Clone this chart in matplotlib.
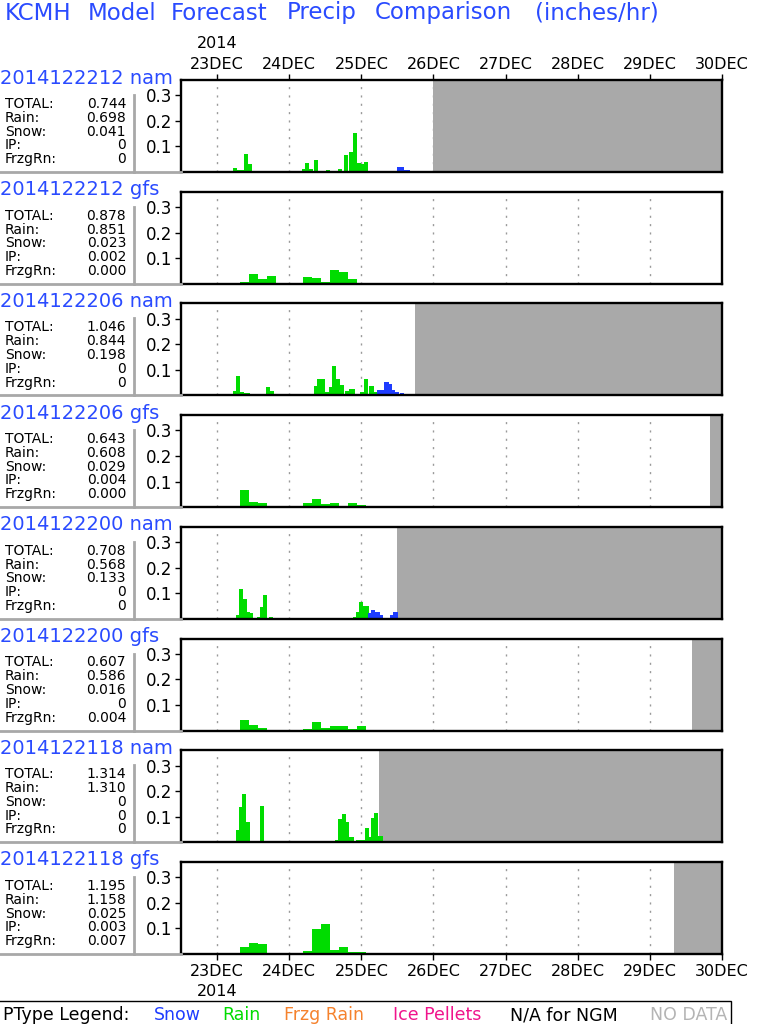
import matplotlib
matplotlib.use("Agg")
import matplotlib.pyplot as plt
from matplotlib.lines import Line2D
from matplotlib.patches import Rectangle

# ---- data (hours are counted from 22DEC 12Z, values in inches/hr) ----
title_words = ["KCMH", "Model", "Forecast", "Precip", "Comparison", "(inches/hr)"]
run_labels = ["2014122212 nam", "2014122212 gfs", "2014122206 nam", "2014122206 gfs",
              "2014122200 nam", "2014122200 gfs", "2014122118 nam", "2014122118 gfs"]
stat_names = ["TOTAL:", "Rain:", "Snow:", "IP:", "FrzgRn:"]
stat_values = [
    ["0.744", "0.698", "0.041", "0", "0"],
    ["0.878", "0.851", "0.023", "0.002", "0.000"],
    ["1.046", "0.844", "0.198", "0", "0"],
    ["0.643", "0.608", "0.029", "0.004", "0.000"],
    ["0.708", "0.568", "0.133", "0", "0"],
    ["0.607", "0.586", "0.016", "0", "0.004"],
    ["1.314", "1.310", "0", "0", "0"],
    ["1.195", "1.158", "0.025", "0.003", "0.007"],
]
no_data_from = [84, None, 78, 176, 72, 170, 66, 164]

day_hours = [12, 36, 60, 84, 108, 132, 156, 180]
day_labels = ["23DEC", "24DEC", "25DEC", "26DEC", "27DEC", "28DEC", "29DEC", "30DEC"]

# nam 2014122212
p1_rain_h = [15.4, 17.3, 18.7, 20.0, 21.0, 22.3, 23.3, 24.6, 26.0, 28.0, 29.0,
             38.3, 39.3, 40.3, 41.3, 42.7, 44.3, 45.7, 47.0, 48.3, 49.7, 51.0, 52.3, 53.5,
             54.3, 56.0, 57.1, 58.4, 59.8, 60.9, 62.5, 64.2, 65.5, 66.8]
p1_rain_v = [0.004, 0.017, 0.006, 0.008, 0.072, 0.030, 0.004, 0.004, 0.004, 0.004, 0.004,
             0.004, 0.004, 0.013, 0.034, 0.013, 0.048, 0.004, 0.004, 0.008, 0.004, 0.004, 0.013, 0.004,
             0.068, 0.080, 0.154, 0.034, 0.030, 0.040, 0.004, 0.004, 0.004, 0.004]
p1_snow_h = [67.8, 69.0, 70.3, 71.8, 72.8, 73.8, 74.8]
p1_snow_v = [0.004, 0.004, 0.004, 0.021, 0.021, 0.008, 0.008]

# gfs 2014122212
p2_rain_h = [21, 24, 27, 30, 42, 45, 48, 51, 54, 57, 60, 117, 120]
p2_rain_v = [0.006, 0.038, 0.019, 0.031, 0.025, 0.022, 0.006, 0.052, 0.045, 0.018, 0.004, 0.003, 0.003]
p2_frzg_h = [81]
p2_frzg_v = [0.002]

# nam 2014122206
p3_rain_h = [17.3, 18.3, 19.7, 21.0, 21.7, 22.7, 28.3, 29.7,
             43.3, 44.3, 45.3, 46.4, 47.7, 48.3, 49.3, 50.3, 51.7, 53.0, 54.7, 56.0, 56.4,
             58.7, 59.7, 61.0, 62.7, 64.0]
p3_rain_v = [0.016, 0.074, 0.013, 0.009, 0.009, 0.004, 0.031, 0.019,
             0.006, 0.035, 0.066, 0.066, 0.013, 0.013, 0.031, 0.117, 0.066, 0.039, 0.019, 0.027, 0.027,
             0.005, 0.013, 0.066, 0.035, 0.013]
p3_snow_h = [65.3, 66.4, 67.7, 69.0, 70.0, 71.3, 72.7]
p3_snow_v = [0.023, 0.023, 0.054, 0.043, 0.023, 0.013, 0.009]

# gfs 2014122206
p4_rain_h = [18, 21, 24, 27, 30, 42, 45, 48, 51, 57, 60, 117]
p4_rain_v = [0.004, 0.067, 0.020, 0.016, 0.004, 0.016, 0.031, 0.012, 0.016, 0.016, 0.008, 0.002]
p4_ip_h = [66]
p4_ip_v = [0.003]
p4_snow_h = [69, 75, 138]
p4_snow_v = [0.003, 0.003, 0.002]
p4_frzg_h = [78]
p4_frzg_v = [0.002]

# nam 2014122200
p5_rain_h = [18.3, 19.3, 20.7, 21.7, 22.7, 24.3, 25.3, 26.3, 27.3, 28.7, 29.3, 30.7, 31.7,
             42.0, 43.0, 57.3, 58.3, 59.3, 60.7, 61.3]
p5_rain_v = [0.013, 0.115, 0.076, 0.025, 0.021, 0.004, 0.009, 0.048, 0.095, 0.004, 0.009, 0.003, 0.003,
             0.004, 0.004, 0.009, 0.025, 0.064, 0.052, 0.052]
p5_snow_h = [62.3, 63.3, 64.7, 65.7, 67.0, 68.3, 69.7, 70.7]
p5_snow_v = [0.021, 0.033, 0.025, 0.013, 0.005, 0.005, 0.013, 0.025]
p5_none_h = [6.3, 17.3, 33.0, 34.3, 35.6, 36.9, 38.2, 39.5, 40.8, 49.3, 50.5]
p5_none_v = [0.004] * 11

# gfs 2014122200
p6_rain_h = [21, 24, 27, 42, 45, 48, 51, 54, 57, 60]
p6_rain_v = [0.043, 0.020, 0.008, 0.004, 0.035, 0.008, 0.016, 0.016, 0.004, 0.016]
p6_frzg_h = [78, 81]
p6_frzg_v = [0.003, 0.003]

# nam 2014122118
p7_rain_h = [17.3, 18.3, 19.3, 20.3, 21.7, 26.3, 27.7, 32.3,
             41.3, 42.3, 43.3, 44.7, 45.9, 47.0,
             51.3, 52.3, 53.7, 54.7, 55.7, 56.3, 57.7, 58.3, 59.3, 60.3,
             61.3, 62.7, 63.3, 64.3, 65.7]
p7_rain_v = [0.004, 0.046, 0.136, 0.187, 0.081, 0.140, 0.006, 0.004,
             0.003, 0.006, 0.006, 0.004, 0.004, 0.004,
             0.009, 0.089, 0.112, 0.081, 0.020, 0.022, 0.006, 0.010, 0.010, 0.010,
             0.054, 0.022, 0.093, 0.116, 0.026]

# gfs 2014122118
p8_rain_h = [21, 24, 27, 30, 33, 36, 42, 45, 48, 51, 54, 57, 60]
p8_rain_v = [0.027, 0.043, 0.039, 0.004, 0.004, 0.004, 0.012, 0.098, 0.118, 0.016, 0.027, 0.008, 0.008]
p8_ip_h = [69]
p8_ip_v = [0.002]
p8_snow_h = [72]
p8_snow_v = [0.002]
p8_frzg_h = [75, 78, 81]
p8_frzg_v = [0.003, 0.003, 0.002]

# ---- styling ----
W, H = 768, 1024
blue_txt = "#2a4bff"
c_rain = "#00dc00"
c_snow = "#1e3cff"
c_frzg = "#f5822d"
c_ip = "#f0148c"
c_none = "#a9a9a9"
c_box = "#a8a8a8"

plt.rcParams["font.family"] = "DejaVu Sans"


def fx(px):
    return px / W


def fy(py):
    return 1 - py / H


panel_series = [
    [(p1_rain_h, p1_rain_v, c_rain), (p1_snow_h, p1_snow_v, c_snow)],
    [(p2_rain_h, p2_rain_v, c_rain), (p2_frzg_h, p2_frzg_v, c_frzg)],
    [(p3_rain_h, p3_rain_v, c_rain), (p3_snow_h, p3_snow_v, c_snow)],
    [(p4_rain_h, p4_rain_v, c_rain), (p4_ip_h, p4_ip_v, c_ip),
     (p4_snow_h, p4_snow_v, c_snow), (p4_frzg_h, p4_frzg_v, c_frzg)],
    [(p5_rain_h, p5_rain_v, c_rain), (p5_snow_h, p5_snow_v, c_snow), (p5_none_h, p5_none_v, c_none)],
    [(p6_rain_h, p6_rain_v, c_rain), (p6_frzg_h, p6_frzg_v, c_frzg)],
    [(p7_rain_h, p7_rain_v, c_rain)],
    [(p8_rain_h, p8_rain_v, c_rain), (p8_ip_h, p8_ip_v, c_ip),
     (p8_snow_h, p8_snow_v, c_snow), (p8_frzg_h, p8_frzg_v, c_frzg)],
]

fig = plt.figure(figsize=(7.68, 10.24), dpi=100)

# title, word by word (centred where the original words sit) for the wide spacing
title_cx = [38, 122, 219, 322, 443, 597]
for word, xpos in zip(title_words, title_cx):
    fig.text(fx(xpos), fy(13), word, color=blue_txt, fontsize=16.5, ha="center", va="center")

ax_left, ax_right = 181, 722
step = 111.7
for i in range(8):
    top = 80 + i * step
    bot = top + 92
    ax = fig.add_axes([fx(ax_left), fy(bot), (ax_right - ax_left) / W, 92 / H])
    ax.set_xlim(0, 180)
    ax.set_ylim(0, 0.36)

    is_nam = run_labels[i].endswith("nam")
    for hours, vals, col in panel_series[i]:
        if is_nam:
            ax.bar(hours, vals, width=1.35, align="edge", color=col, linewidth=0, zorder=2)
        else:
            ax.bar(hours, vals, width=3, align="center", color=col, linewidth=0, zorder=2)

    if no_data_from[i] is not None:
        ax.axvspan(no_data_from[i], 180, color=c_none, linewidth=0, zorder=1)

    for h in day_hours[:-1]:
        ax.axvline(h, color="#9a9a9a", lw=1.0, dashes=(1.5, 4.5), zorder=0)

    for s in ax.spines.values():
        s.set_linewidth(1.7)
        s.set_color("black")
        s.set_zorder(5)

    ax.set_yticks([0.1, 0.2, 0.3])
    ax.set_yticklabels(["0.1", "0.2", "0.3"])
    ax.tick_params(axis="y", direction="out", length=4.5, width=1, pad=2, labelsize=12)

    ax.set_xticks(day_hours)
    ax.set_xticklabels(day_labels)
    if i == 0:
        ax.tick_params(axis="x", top=True, labeltop=True, bottom=False, labelbottom=False,
                       direction="out", length=4.5, width=1, pad=1, labelsize=11.5)
    elif i == 7:
        ax.tick_params(axis="x", top=False, labeltop=False, bottom=True, labelbottom=True,
                       direction="out", length=4.5, width=1, pad=2.5, labelsize=11.5)
    else:
        ax.tick_params(axis="x", length=0, labelbottom=False, labeltop=False)

    # run label and stats box
    fig.text(fx(0), fy(top - 2), run_labels[i], color=blue_txt, fontsize=14,
             ha="left", va="center")
    for k in range(5):
        yy = top + 24 + k * 13.8
        fig.text(fx(5), fy(yy), stat_names[k], fontsize=10, ha="left", va="center")
        fig.text(fx(126), fy(yy), stat_values[i][k], fontsize=10, ha="right", va="center")
    fig.add_artist(Line2D([fx(134), fx(134)], [fy(top + 15), fy(bot)], color=c_box, lw=2))
    fig.add_artist(Line2D([fx(0), fx(ax_left)], [fy(bot), fy(bot)], color=c_box, lw=2))

fig.text(fx(217), fy(43), "2014", fontsize=11.5, ha="center", va="center")
fig.text(fx(217), fy(991), "2014", fontsize=11.5, ha="center", va="center")

# legend strip
fig.add_artist(Rectangle((fx(-2), fy(1030)), fx(733), (1030 - 1001) / H,
                         transform=fig.transFigure, fill=False, edgecolor="black", lw=1))
legend_items = [("PType Legend:", 3, "black"), ("Snow", 154, c_snow), ("Rain", 222, c_rain),
                ("Frzg Rain", 284, c_frzg), ("Ice Pellets", 393, c_ip),
                ("N/A for NGM", 510, "black"), ("NO DATA", 650, "#b4b4b4")]
for txt, xpos, col in legend_items:
    fig.text(fx(xpos), fy(1015), txt, color=col, fontsize=12.5, ha="left", va="center")

fig.savefig("out.png", dpi=100)
